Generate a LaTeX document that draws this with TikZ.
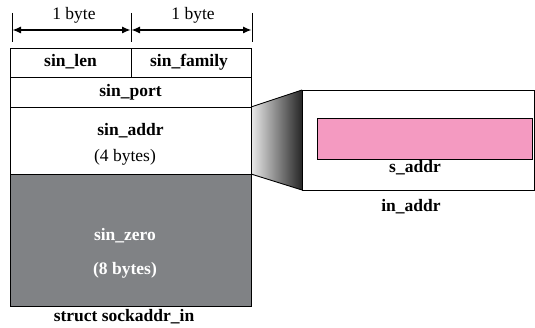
\documentclass[tikz,border=0pt]{standalone}
\usepackage{fontspec}
\setmainfont{Liberation Serif}
\usetikzlibrary{arrows.meta}
\begin{document}
\begin{tikzpicture}[x=1pt,y=-1pt,
  fld/.style={draw=black,line width=0.9pt},
  lbl/.style={font=\fontsize{17.5}{19}\selectfont\bfseries,inner sep=0pt},
  rlbl/.style={font=\fontsize{17.5}{19}\selectfont,inner sep=0pt},
  dimarrow/.style={draw=black,line width=1.1pt,{Latex[length=8.5pt,width=7pt]}-{Latex[length=8.5pt,width=7pt]}}]
\useasboundingbox (0,0) rectangle (535,328);
\definecolor{zerogray}{HTML}{808285}
\definecolor{pinkfill}{HTML}{F49AC1}
% dimension ticks
\coordinate (t0a) at (12,13); \coordinate (t0b) at (12,42);
\coordinate (t1a) at (131,13); \coordinate (t1b) at (131,42);
\coordinate (t2a) at (252,13); \coordinate (t2b) at (252,42);
\draw[line width=0.8pt] (t0a) -- (t0b);
\draw[line width=0.8pt] (t1a) -- (t1b);
\draw[line width=0.8pt] (t2a) -- (t2b);
\coordinate (d0) at (12.5,30); \coordinate (d1a) at (130.5,30);
\coordinate (d1b) at (131.5,30); \coordinate (d2) at (251.5,30);
\draw[dimarrow] (d0) -- (d1a);
\draw[dimarrow] (d1b) -- (d2);
\node[rlbl] (b1) at (74,15) {1 byte};
\node[rlbl] (b2) at (193,15) {1 byte};
% funnel
\shade[left color=black!8,right color=black!85] (251,107) -- (302,90) -- (302,190) -- (251,174) -- cycle;
\coordinate (f1) at (251,107); \coordinate (f2) at (302,90);
\coordinate (f3) at (251,174); \coordinate (f4) at (302,190);
\draw[line width=0.9pt] (f1) -- (f2);
\draw[line width=0.9pt] (f3) -- (f4);
% fields
\draw[fld] (10,48) rectangle (131,77);
\draw[fld] (131,48) rectangle (251,77);
\draw[fld] (10,77) rectangle (251,107);
\draw[fld,fill=white] (10,107) rectangle (251,174);
\draw[fld,fill=zerogray] (10,174) rectangle (251,306);
\node[lbl] (len) at (70.5,62) {sin\_len};
\node[lbl] (fam) at (189,62) {sin\_family};
\node[lbl] (port) at (130.5,92) {sin\_port};
\node[lbl] (addr) at (130.5,131) {sin\_addr};
\node[rlbl] (four) at (125,157) {(4 bytes)};
\node[lbl,text=white] (zero) at (125,236) {sin\_zero};
\node[lbl,text=white] (eight) at (125,270) {(8 bytes)};
\node[lbl] (sock) at (124,317) {struct sockaddr\_in};
% in_addr box
\draw[fld,fill=white] (302,90) rectangle (534,190);
\draw[fld,fill=pinkfill] (317,118) rectangle (532,159);
\node[lbl] (saddr) at (415,168) {s\_addr};
\node[lbl] (inaddr) at (411,207) {in\_addr};
\end{tikzpicture}
\end{document}
